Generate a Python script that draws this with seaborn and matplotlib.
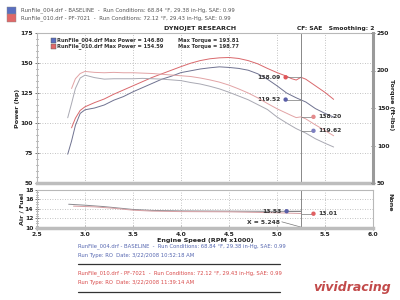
import numpy as np
import pandas as pd
import matplotlib
matplotlib.use("Agg")
import matplotlib.pyplot as plt
from matplotlib.patches import Rectangle
from matplotlib.ticker import MultipleLocator
import seaborn as sns

# ---------------- data ----------------
rpm_base = [2.82, 2.86, 2.90, 2.95, 3.00, 3.10, 3.20, 3.30, 3.40, 3.50, 3.60, 3.70, 3.80,
            3.90, 4.00, 4.10, 4.20, 4.30, 4.40, 4.50, 4.60, 4.70, 4.80, 4.90, 5.00, 5.10,
            5.20, 5.30, 5.40, 5.50, 5.59]
hp_base = [74, 85, 98, 108, 111, 112.5, 115, 119, 122, 126, 129.5, 133, 136.5,
           139, 142, 143.5, 145, 146, 146.8, 146.3, 145.5, 144, 141, 136.5, 131, 125,
           121, 117.5, 112, 108, 105]
tq_base = [137, 156, 176, 190, 193.8, 190.5, 188.5, 189, 189, 189, 189.5, 189, 188.5,
           187.5, 186.5, 184, 182, 179, 175.5, 171, 166, 161, 154.5, 148, 138, 130,
           122.5, 116.5, 109, 103, 98]

rpm_mod = [2.86, 2.90, 2.95, 3.00, 3.10, 3.20, 3.30, 3.40, 3.50, 3.60, 3.70, 3.80, 3.90,
           4.00, 4.10, 4.20, 4.30, 4.40, 4.50, 4.60, 4.70, 4.80, 4.90, 5.00, 5.10, 5.15,
           5.20, 5.25, 5.30, 5.40, 5.50, 5.59]
hp_mod = [96, 104, 110.5, 113.5, 117, 120, 124, 127.5, 131, 134.5, 138, 141, 144,
          147, 149.8, 152, 153.5, 154.3, 154.59, 153.8, 152, 149.3, 145.5, 142, 139, 137,
          135.8, 138.1, 136.5, 131, 125.5, 119.7]
tq_mod = [176, 189, 196, 198.77, 197.5, 197, 197.5, 197, 197, 196.5, 196, 195, 194,
          193, 192, 190, 187.5, 184.5, 180.5, 175.5, 170, 163.5, 156, 149, 143, 140,
          137.2, 138.2, 135.5, 127.5, 120, 113]

rpm_af_base = [2.83, 3.00, 3.20, 3.30, 3.50, 3.70, 4.00, 4.50, 5.00, 5.25]
af_base = [15.0, 14.8, 14.5, 14.3, 13.9, 13.7, 13.6, 13.55, 13.5, 13.53]
rpm_af_mod = [2.88, 3.10, 3.30, 3.50, 3.70, 4.00, 4.50, 5.00, 5.25]
af_mod = [14.6, 14.45, 14.15, 13.75, 13.55, 13.45, 13.4, 13.2, 13.05]

cursor_x = 5.248
power_marks = [138.09, 119.52]      # red, blue (at cursor)
torque_marks = [138.20, 119.62]     # red, blue
af_marks = [13.53, 13.01]           # blue, red

RED = "#d9686c"
BLUE = "#6f7290"
RED_T = "#e2a3a5"
BLUE_T = "#a9a9b3"

sns.set_theme(style="white")
plt.rcParams['font.family'] = ['DejaVu Sans']

fig = plt.figure(figsize=(4, 3), dpi=100)
fig.patch.set_facecolor("white")

L, W = 0.0925, 0.84
ax = fig.add_axes([L, 0.39, W, 0.50])
ax2 = ax.twinx()
axb = fig.add_axes([L, 0.24, W, 0.1267])

df_b = pd.DataFrame({"rpm": rpm_base, "hp": hp_base, "tq": tq_base})
df_m = pd.DataFrame({"rpm": rpm_mod, "hp": hp_mod, "tq": tq_mod})

sns.lineplot(data=df_m, x="rpm", y="hp", ax=ax, color=RED, lw=0.7, sort=False)
sns.lineplot(data=df_b, x="rpm", y="hp", ax=ax, color=BLUE, lw=0.7, sort=False)
sns.lineplot(data=df_m, x="rpm", y="tq", ax=ax2, color=RED_T, lw=0.7, sort=False)
sns.lineplot(data=df_b, x="rpm", y="tq", ax=ax2, color=BLUE_T, lw=0.7, sort=False)

xl = (2.5, 6.0)
ax.set_xlim(*xl)
ax.set_ylim(50, 175)
ax2.set_ylim(50, 250)
axb.set_xlim(*xl)
axb.set_ylim(10, 18)

# markers for power (left of cursor), torque (right of cursor)
px = 5.09
tx = 5.38
ax.hlines(power_marks, px, cursor_x, color="#777777", lw=0.5)
ax2.hlines(torque_marks, cursor_x, tx, color="#777777", lw=0.5)
sns.scatterplot(x=[px], y=[power_marks[0]], ax=ax, color="#e05558", s=10,
                edgecolor="none", legend=False, zorder=5)
sns.scatterplot(x=[px], y=[power_marks[1]], ax=ax, color="#5a5fa8", s=10,
                edgecolor="none", legend=False, zorder=5)
sns.scatterplot(x=[tx], y=[torque_marks[0]], ax=ax2, color="#e48a8c", s=10,
                edgecolor="none", legend=False, zorder=5)
sns.scatterplot(x=[tx], y=[torque_marks[1]], ax=ax2, color="#7c7fc0", s=10,
                edgecolor="none", legend=False, zorder=5)
for v in power_marks:
    ax.text(px - 0.05, v, f"{v:.2f}", fontsize=4.3, fontweight="bold", ha="right",
            va="center", color="#333333")
for v in torque_marks:
    ax2.text(tx + 0.05, v, f"{v:.2f}", fontsize=4.3, fontweight="bold", ha="left",
             va="center", color="#333333")

# Air/Fuel
df_afb = pd.DataFrame({"rpm": rpm_af_base, "af": af_base})
df_afm = pd.DataFrame({"rpm": rpm_af_mod, "af": af_mod})
sns.lineplot(data=df_afb, x="rpm", y="af", ax=axb, color="#8a8a90", lw=0.7, sort=False)
sns.lineplot(data=df_afm, x="rpm", y="af", ax=axb, color="#d8a0a4", lw=0.7, sort=False)
afx_b, afx_r = 5.10, 5.38
axb.hlines(af_marks[0], afx_b, cursor_x, color="#777777", lw=0.5)
axb.hlines(af_marks[1], cursor_x, afx_r, color="#777777", lw=0.5)
sns.scatterplot(x=[afx_b], y=[af_marks[0]], ax=axb, color="#5a5fa8", s=10,
                edgecolor="none", legend=False, zorder=5)
sns.scatterplot(x=[afx_r], y=[af_marks[1]], ax=axb, color="#e06062", s=10,
                edgecolor="none", legend=False, zorder=5)
axb.text(afx_b - 0.05, af_marks[0], f"{af_marks[0]:.2f}", fontsize=4.3, fontweight="bold",
         ha="right", va="center", color="#333333")
axb.text(afx_r + 0.05, af_marks[1], f"{af_marks[1]:.2f}", fontsize=4.3, fontweight="bold",
         ha="left", va="center", color="#333333")
axb.text(5.03, 11.1, f"X = {cursor_x:.3f}", fontsize=4.3, fontweight="bold",
         ha="right", va="center", color="#333333")
axb.plot([5.05, cursor_x], [11.3, 10.2], color="#777777", lw=0.5)

# cursor line
ax.axvline(cursor_x, color="#888888", lw=0.7)
axb.axvline(cursor_x, color="#888888", lw=0.7)

# ticks / grid
for a in (ax, axb):
    a.xaxis.set_major_locator(MultipleLocator(0.5))
    a.xaxis.set_minor_locator(MultipleLocator(0.1))
    a.grid(True, which="major", ls=(0, (1, 2)), color="#b0b0b0", lw=0.6)
    a.set_xlabel("")
    a.set_ylabel("")
    for s in a.spines.values():
        s.set_color("#b8b8b8")
        s.set_linewidth(0.8)
    a.spines["bottom"].set_linewidth(2.5)
    a.spines["bottom"].set_color("#bdbdbd")
ax2.set_ylabel("")
ax.yaxis.set_major_locator(MultipleLocator(25))
ax.yaxis.set_minor_locator(MultipleLocator(5))
ax2.yaxis.set_major_locator(MultipleLocator(50))
ax2.yaxis.set_minor_locator(MultipleLocator(10))
axb.yaxis.set_major_locator(MultipleLocator(2))
axb.yaxis.set_minor_locator(MultipleLocator(0.5))
for s in ax2.spines.values():
    s.set_visible(False)
ax2.spines["right"].set_visible(True)
ax2.spines["right"].set_linewidth(2.2)
ax2.spines["right"].set_color("#9a9a9a")

tick_kw = dict(labelsize=4.3, length=2.5, width=0.5, color="#444444", labelcolor="#222222",
               pad=1.5)
ax.tick_params(axis="y", which="both", left=True, direction="inout", **tick_kw)
ax.tick_params(axis="y", which="minor", length=2)
ax.tick_params(axis="x", which="both", bottom=False, labelbottom=False)
ax2.tick_params(axis="y", which="both", right=True, direction="inout", **tick_kw)
ax2.tick_params(axis="y", which="minor", length=2)
axb.tick_params(axis="y", which="both", left=True, direction="inout", **tick_kw)
axb.tick_params(axis="y", which="minor", length=2)
axb.tick_params(axis="x", which="both", bottom=True, direction="inout", **tick_kw)
axb.tick_params(axis="x", which="minor", length=2)
for lab in ax.get_yticklabels() + ax2.get_yticklabels():
    lab.set_fontweight("bold")
axb.set_xticks([2.5, 3.0, 3.5, 4.0, 4.5, 5.0, 5.5, 6.0])
axb.set_xticklabels(["2.5", "3.0", "3.5", "4.0", "4.5", "5.0", "5.5", "6.0"],
                    fontsize=4.3, fontweight="bold")
axb.set_yticks([10, 12, 14, 16, 18])
axb.set_yticklabels(["10", "12", "14", "16", "18"], fontsize=4.3, fontweight="bold")

axb.set_xlabel("Engine Speed (RPM x1000)", fontsize=4.6, fontweight="bold", labelpad=0.5)
fig.text(0.045, 0.64, "Power (hp)", rotation=90, fontsize=4.6, fontweight="bold",
         ha="center", va="center")
fig.text(0.978, 0.65, "Torque (ft-lbs)", rotation=-90, fontsize=4.6, fontweight="bold",
         ha="center", va="center")
fig.text(0.055, 0.305, "Air / Fuel", rotation=90, fontsize=4.6, fontweight="bold",
         ha="center", va="center")
fig.text(0.975, 0.325, "None", rotation=-90, fontsize=4.6, fontweight="bold",
         ha="center", va="center")

# titles above panel
fig.text(0.50, 0.905, "DYNOJET RESEARCH", fontsize=4.6, fontweight="bold", ha="center",
         va="center", color="#222222")
fig.text(0.935, 0.905, "CF: SAE   Smoothing: 2", fontsize=4.3, fontweight="bold",
         ha="right", va="center", color="#222222")

# in-panel legend
leg_rows = [("RunFile_004.drf Max Power = 146.80", "Max Torque = 193.81", "#5a6fc0", 0.865),
            ("RunFile_010.drf Max Power = 154.59", "Max Torque = 198.77", "#e06868", 0.845)]
for t1, t2, c, y in leg_rows:
    fig.patches.append(Rectangle((0.128, y - 0.008), 0.013, 0.016, transform=fig.transFigure,
                                 facecolor=c, edgecolor="#555555", lw=0.3))
    fig.text(0.143, y, t1, fontsize=3.7, fontweight="bold", va="center", color="#333333")
    fig.text(0.445, y, t2, fontsize=3.7, fontweight="bold", va="center", color="#333333")

# header
hdr = [("RunFile_004.drf - BASELINE  -  Run Conditions: 68.84 \u00b0F, 29.38 in-Hg, SAE: 0.99",
        "#5a6fc0", 0.965),
       ("RunFile_010.drf - PF-7021  -  Run Conditions: 72.12 \u00b0F, 29.43 in-Hg, SAE: 0.99",
        "#e06868", 0.94)]
for t, c, y in hdr:
    fig.patches.append(Rectangle((0.018, y - 0.0125), 0.022, 0.025, transform=fig.transFigure,
                                 facecolor=c, edgecolor="#888888", lw=0.3))
    fig.text(0.052, y, t, fontsize=3.9, va="center", color="#555555")

# footer
foot = [("RunFile_004.drf - BASELINE  -  Run Conditions: 68.84 \u00b0F, 29.38 in-Hg, SAE: 0.99",
         "#5566b0", 0.18),
        ("Run Type: RO  Date: 3/22/2008 10:52:18 AM", "#5566b0", 0.15),
        ("RunFile_010.drf - PF-7021  -  Run Conditions: 72.12 \u00b0F, 29.43 in-Hg, SAE: 0.99",
         "#d84a4a", 0.09),
        ("Run Type: RO  Date: 3/22/2008 11:39:14 AM", "#d84a4a", 0.058)]
for t, c, y in foot:
    fig.text(0.195, y, t, fontsize=3.8, va="center", color=c)
for y in (0.12, 0.027):
    fig.add_artist(plt.Line2D([0.195, 0.70], [y, y], transform=fig.transFigure,
                              color="#333333", lw=0.9))

fig.text(0.978, 0.04, "vividracing", fontsize=9, fontweight="bold", style="italic",
         ha="right", va="center", color="#c24a4a")

fig.savefig("out.png", dpi=100, facecolor="white")
